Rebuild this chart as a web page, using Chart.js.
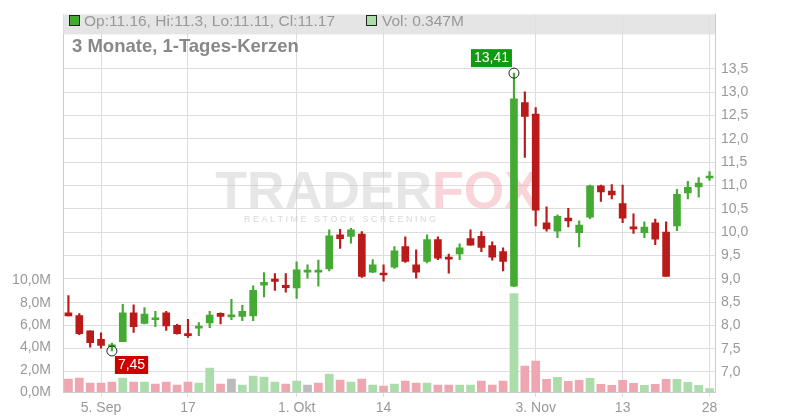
<!DOCTYPE html>
<html>
<head>
<meta charset="utf-8">
<script src="https://cdn.jsdelivr.net/npm/chart.js"></script>
<style>body{margin:0;background:#fff}</style>
</head>
<body>
<canvas id="myChart" width="800" height="420"></canvas>
<script>
// tick labels for the x axis (one per trading day, empty = no label)
let xLabels = ['', '', '', '5. Sep', '', '', '', '', '', '', '', '17', '', '', '', '', '', '', '', '', '',
    '1. Okt', '', '', '', '', '', '', '', '14', '', '', '', '', '', '', '', '', '', '', '', '', '', '3. Nov',
    '', '', '', '', '', '', '', '13', '', '', '', '', '', '', '', '28'];

// daily candles
let opens  = [8.27, 8.21, 7.88, 7.70, 7.54, 7.65, 8.27, 8.04, 8.12, 8.27, 8.00, 7.82, 7.94, 8.05, 8.26, 8.18, 8.19, 8.20, 8.86, 8.99,
    8.86, 8.80, 9.14, 9.14, 9.21, 9.94, 9.91, 9.96, 9.14, 9.12, 9.25, 9.69, 9.30, 9.37, 9.84, 9.45, 9.53, 9.86, 9.91, 9.71,
    9.58, 8.84, 12.78, 12.53, 10.20, 10.02, 10.30, 9.99, 10.32, 10.99, 10.88, 10.61, 10.11, 9.99, 10.20, 10.00, 10.13, 10.84, 10.97, 11.16];
let highs  = [8.64, 8.25, 7.88, 7.84, 7.62, 8.45, 8.44, 8.38, 8.30, 8.30, 8.02, 8.13, 8.06, 8.30, 8.27, 8.56, 8.43, 8.85, 9.13, 9.11,
    9.11, 9.36, 9.30, 9.40, 10.05, 10.06, 10.08, 10.01, 9.41, 9.30, 9.69, 9.90, 9.62, 9.94, 9.90, 9.53, 9.75, 10.05, 10.01, 9.79,
    9.66, 13.41, 13.01, 12.67, 10.54, 10.37, 10.51, 10.24, 11.01, 11.01, 11.02, 11.01, 10.39, 10.22, 10.28, 10.22, 10.92, 11.09, 11.17, 11.30];
let lows   = [8.20, 7.80, 7.53, 7.51, 7.45, 7.65, 7.85, 8.03, 7.97, 7.89, 7.81, 7.74, 7.78, 7.95, 8.03, 8.12, 8.10, 8.10, 8.61, 8.75,
    8.71, 8.58, 9.01, 8.84, 9.17, 9.65, 9.76, 9.03, 9.13, 8.95, 9.22, 9.35, 9.01, 9.34, 9.41, 9.12, 9.41, 9.72, 9.58, 9.40,
    9.17, 8.83, 11.60, 10.13, 10.02, 9.88, 10.11, 9.68, 10.29, 10.66, 10.71, 10.20, 9.97, 9.88, 9.73, 9.05, 10.03, 10.71, 10.75, 11.11];
let closes = [8.20, 7.82, 7.63, 7.57, 7.56, 8.27, 7.97, 8.24, 8.16, 7.99, 7.82, 7.78, 7.95, 8.22, 8.19, 8.20, 8.30, 8.75, 8.92, 8.94,
    8.81, 9.19, 9.17, 9.16, 9.92, 9.86, 10.05, 9.05, 9.30, 9.08, 9.60, 9.37, 9.14, 9.84, 9.44, 9.42, 9.66, 9.72, 9.67, 9.46,
    9.37, 12.86, 12.48, 10.47, 10.07, 10.34, 10.24, 10.15, 10.99, 10.86, 10.80, 10.30, 10.07, 10.11, 9.85, 9.05, 10.81, 10.96, 11.05, 11.17];

// volume in millions, direction u = up, d = down, n = unchanged
let volumes = [1.19, 1.28, 0.83, 0.83, 0.92, 1.28, 0.92, 0.92, 0.74, 0.92, 0.65, 0.92, 0.83, 2.17, 0.74, 1.19, 0.65, 1.46, 1.37, 0.92,
    0.74, 1.01, 0.65, 0.83, 1.64, 1.10, 0.92, 1.19, 0.65, 0.57, 0.74, 1.01, 0.83, 0.83, 0.65, 0.65, 0.65, 0.65, 1.01, 0.65,
    1.01, 8.87, 2.35, 2.80, 1.16, 1.34, 0.98, 1.07, 1.25, 0.71, 0.63, 1.07, 0.80, 0.63, 0.71, 1.16, 1.16, 0.89, 0.63, 0.347];
let volDir = ['d', 'd', 'd', 'd', 'd', 'u', 'd', 'u', 'd', 'd', 'd', 'd', 'u', 'u', 'd', 'n', 'u', 'u', 'u', 'u',
    'd', 'u', 'n', 'd', 'u', 'd', 'u', 'd', 'u', 'd', 'u', 'd', 'd', 'u', 'd', 'd', 'u', 'u', 'd', 'd',
    'd', 'u', 'd', 'd', 'd', 'u', 'd', 'd', 'u', 'd', 'd', 'd', 'd', 'u', 'd', 'd', 'u', 'u', 'u', 'u'];

const GREEN = '#44aa33', RED = '#bb1a1a';
let candleColors = opens.map((o, i) => closes[i] >= o ? GREEN : RED);
let volColors = volDir.map(d => d === 'u' ? '#aaddaa' : d === 'd' ? '#eea6b0' : '#bbbbbb');
const fmt = v => v.toFixed(1).replace('.', ',');

const overlay = {
    id: 'overlay',
    beforeDatasetsDraw(chart) {
        const c = chart.ctx;
        c.save();
        c.textBaseline = 'alphabetic';
        c.font = 'bold 52px "Liberation Sans"';
        c.fillStyle = 'rgba(200,200,200,0.45)';
        c.textAlign = 'right';
        c.fillText('TRADER', 432, 208);
        c.fillStyle = 'rgba(240,150,160,0.4)';
        c.textAlign = 'left';
        c.fillText('FOX', 432, 208);
        c.font = '9px "Liberation Sans"';
        c.fillStyle = 'rgba(200,200,200,0.7)';
        c.textAlign = 'center';
        c.fillText('R E A L T I M E   S T O C K   S C R E E N I N G', 340, 222);
        c.restore();
    },
    afterDraw(chart) {
        const c = chart.ctx, a = chart.chartArea;
        const x = chart.scales.x, y = chart.scales.price;
        c.save();
        // legend bar
        c.fillStyle = 'rgba(225,225,225,0.85)';
        c.fillRect(a.left, a.top, a.right - a.left, 20);
        c.fillStyle = GREEN; c.fillRect(69, 15, 11, 11);
        c.strokeStyle = '#222'; c.lineWidth = 1; c.strokeRect(69.5, 15.5, 10, 10);
        c.fillStyle = '#aaddaa'; c.fillRect(366, 15, 11, 11); c.strokeRect(366.5, 15.5, 10, 10);
        c.font = '15.5px "Liberation Sans"'; c.fillStyle = '#999'; c.textBaseline = 'middle';
        c.textAlign = 'left';
        const last = opens.length - 1;
        c.fillText('Op:' + opens[last] + ', Hi:' + highs[last] + ', Lo:' + lows[last] + ', Cl:' + closes[last], 84, 22);
        c.fillText('Vol: ' + volumes[last] + 'M', 382, 22);
        c.font = 'bold 18.5px "Liberation Sans"'; c.fillStyle = '#888';
        c.fillText('3 Monate, 1-Tages-Kerzen', 72, 47);
        // high / low markers
        let hi = highs.indexOf(Math.max(...highs)), lo = lows.indexOf(Math.min(...lows));
        const marker = (i, v, col, above) => {
            const px = x.getPixelForValue(i), py = y.getPixelForValue(v);
            c.beginPath(); c.arc(px, py, 5, 0, Math.PI * 2);
            c.strokeStyle = '#222'; c.lineWidth = 1; c.stroke();
            c.font = '14px "Liberation Sans"';
            const t = v.toFixed(2).replace('.', ',');
            const w = c.measureText(t).width + 6;
            const bx = above ? px - w - 2 : px + 3, by = above ? py - 24 : py + 5;
            c.fillStyle = col; c.fillRect(bx, by, w, 18);
            c.fillStyle = '#fff'; c.textAlign = 'left'; c.textBaseline = 'middle';
            c.fillText(t, bx + 3, by + 9.5);
        };
        marker(hi, highs[hi], '#119911', true);
        marker(lo, lows[lo], '#cc0000', false);
        c.restore();
    }
};

var ctx = document.getElementById('myChart').getContext('2d');
var myChart = new Chart(ctx, {
    type: 'bar',
    data: {
        labels: xLabels,
        datasets: [
            { data: highs.map((h, i) => [lows[i], h]), yAxisID: 'price', backgroundColor: candleColors,
              barThickness: 1.5, grouped: false, order: 1 },
            { data: opens.map((o, i) => [o, closes[i]]), yAxisID: 'price', backgroundColor: candleColors,
              barThickness: 7, grouped: false, minBarLength: 2, order: 0 },
            { data: volumes, yAxisID: 'vol', backgroundColor: volColors,
              barPercentage: 0.8, categoryPercentage: 1, grouped: false, order: 2 }
        ]
    },
    options: {
        responsive: false,
        animation: false,
        layout: { padding: { top: 12 } },
        plugins: { legend: { display: false }, tooltip: { enabled: false } },
        scales: {
            x: {
                grid: { offset: false, color: c => xLabels[c.index] ? '#dddddd' : 'transparent', drawTicks: true, tickLength: 5 },
                border: { color: '#cccccc' },
                ticks: { autoSkip: false, maxRotation: 0, color: '#999', font: { family: 'Liberation Sans', size: 14 },
                         callback: (v, i) => xLabels[i] },
                afterFit: s => { s.height = 28; }
            },
            price: {
                position: 'right', min: 6.57, max: 14.67,
                afterBuildTicks: s => { s.ticks = []; for (let v = 7; v <= 13.5; v += 0.5) s.ticks.push({ value: v }); },
                grid: { color: '#dddddd', drawTicks: false },
                border: { color: '#cccccc' },
                ticks: { color: '#999', padding: 6, font: { family: 'Liberation Sans', size: 14 }, callback: v => fmt(v) },
                afterFit: s => { s.width = 85; }
            },
            vol: {
                position: 'left', min: 0, max: 33.9,
                afterBuildTicks: s => { s.ticks = []; for (let v = 0; v <= 10; v += 2) s.ticks.push({ value: v }); },
                grid: { display: false },
                border: { color: '#cccccc' },
                ticks: { color: '#999', padding: 4, font: { family: 'Liberation Sans', size: 14 }, callback: v => fmt(v) + 'M' },
                afterFit: s => { s.width = 63; }
            }
        }
    },
    plugins: [overlay]
});
</script>
</body>
</html>
